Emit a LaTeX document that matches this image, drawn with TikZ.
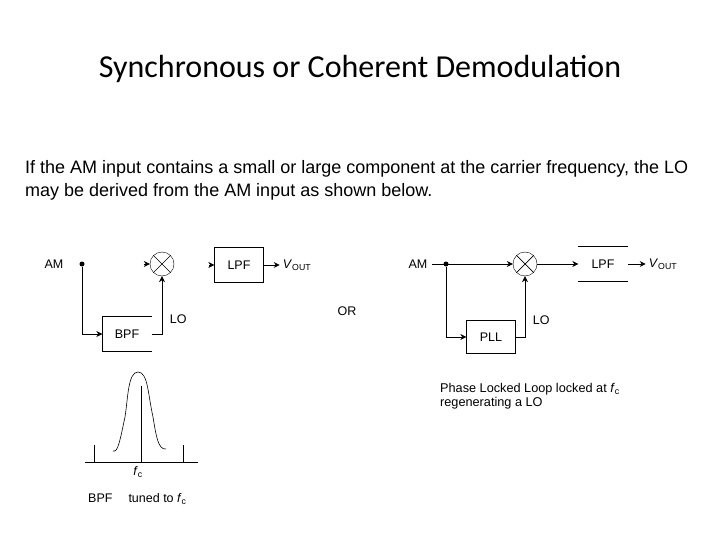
\documentclass[tikz,border=0pt]{standalone}
\usepackage{amsmath, amssymb}
\usepackage{xcolor}
\usepackage{fontspec}
\setmainfont{Liberation Sans}
\newfontfamily\titlefont{Carlito}
\usetikzlibrary{arrows.meta, positioning}
\newcommand{\itsym}[2]{\textit{#1}\textsubscript{#2}}
\tikzset{
  sysbox/.style={minimum width=49pt, minimum height=35pt, inner sep=0pt, font=\fontsize{12.5}{15}\selectfont},
  mixer/.style={draw, circle, minimum size=24pt, inner sep=0pt},
  jointdot/.style={fill, circle, minimum size=5pt, inner sep=0pt},
  lbl/.style={font=\fontsize{12.5}{15}\selectfont, inner sep=0pt},
  conn/.style={-{Stealth[length=6pt,width=6pt]}, line width=0.7pt},
  wire/.style={line width=0.7pt}
}
\begin{document}
\begin{tikzpicture}[x=1pt, y=-1pt, on grid]
        \useasboundingbox (0,0) rectangle (720,540);
        \node[font=\titlefont\fontsize{32}{38}\selectfont] (title) at (360,69) {Synchronous or Coherent Demodulation};
        \node[anchor=west, inner sep=0pt, font=\fontsize{18}{23}\selectfont, align=left] (intro) at (25,180)
          {If the AM input contains a small or large component at the carrier frequency, the LO\\
           may be derived from the AM input as shown below.};

        % left: band-pass filter recovers the carrier
        \node[jointdot] (amdotl) at (82,264) {};
        \node[lbl, left=28pt of amdotl] (aml) {AM};
        \node[mixer, right=80pt of amdotl] (mixl) {};
        \draw[wire] (mixl.north west) -- (mixl.south east);
        \draw[wire] (mixl.north east) -- (mixl.south west);
        \coordinate[left=6pt of mixl.west] (mixinl);
        \draw[conn] (mixinl) -- (mixl.west);
        \node[sysbox, below right=70pt and 45pt of amdotl] (bpfl) {BPF};
        \draw[wire] (bpfl.north east) -- (bpfl.north west) -- (bpfl.south west) -- (bpfl.south east);
        \draw[conn] (amdotl) |- (bpfl.west);
        \draw[conn] (bpfl.east) -| (mixl.south);
        \node[lbl, above right=15pt and 18pt of bpfl.east, yshift=-5pt] (lol) {LO};
        \node[draw, sysbox, right=77pt of mixl, yshift=-1pt] (lpfl) {LPF};
        \coordinate[left=5pt of lpfl.west] (lpfinl);
        \draw[conn] (lpfinl) -- (lpfl.west);
        \coordinate[right=16pt of lpfl.east] (voutl);
        \draw[conn] (lpfl.east) -- (voutl);
        \node[lbl, right=3pt of voutl, on grid=false] (voutlbl) {\itsym{V}{OUT}};

        % filter response
        \node[lbl] (or) at (347,311) {OR};
        \coordinate (axisl) at (85,462);
        \coordinate (axisr) at (198,462);
        \coordinate (fcbase) at (141,462);
        \coordinate (sbl) at (94,462);
        \coordinate (sbr) at (183,462);
        \draw[wire] (axisl) -- (axisr);
        \draw[wire] (sbl) -- ++(0,-17);
        \draw[wire] (sbr) -- ++(0,-17);
        \draw[wire] (fcbase) -- ++(0,-76);
        \draw[line width=0.6pt] (113,451) .. controls (118,453) and (120,440) .. (125,417)
          .. controls (128,398) and (128,372) .. (138,372)
          .. controls (148,372) and (148,395) .. (153,417)
          .. controls (156,435) and (158,450) .. (166,449);
        \node[lbl] (fcl) at (138,472) {\itsym{f}{c}};
        \node[lbl, anchor=west] (bpfcap) at (88,499) {BPF\hspace{16pt}tuned to \itsym{f}{c}};

        % right: phase locked loop recovers the carrier
        \node[jointdot] (amdotr) at (446,264) {};
        \node[lbl, left=28pt of amdotr] (amr) {AM};
        \coordinate[left=14pt of amdotr] (amstart);
        \node[mixer, right=79pt of amdotr] (mixr) {};
        \draw[wire] (mixr.north west) -- (mixr.south east);
        \draw[wire] (mixr.north east) -- (mixr.south west);
        \draw[conn] (amstart) -- (mixr.west);
        \node[draw, sysbox, below right=73pt and 45pt of amdotr, minimum height=33pt] (pll) {PLL};
        \draw[conn] (amdotr) |- (pll.west);
        \draw[conn] (pll.east) -| (mixr.south);
        \node[lbl, above right=12pt and 17pt of pll.east] (lor) {LO};
        \node[sysbox, right=78pt of mixr] (lpfr) {LPF};
        \draw[wire] (lpfr.north west) -- (lpfr.north east);
        \draw[wire] (lpfr.south west) -- (lpfr.south east);
        \draw[conn] (mixr.east) -- (lpfr.west);
        \coordinate[right=18pt of lpfr.east] (voutr);
        \draw[conn] (lpfr.east) -- (voutr);
        \node[lbl, right=3pt of voutr, on grid=false] (voutrlbl) {\itsym{V}{OUT}};
        \node[lbl, anchor=north west, align=left, font=\fontsize{12.7}{14}\selectfont] (pllcap) at (440,383)
          {Phase Locked Loop locked at \itsym{f}{c}\\ regenerating a LO};
      \end{tikzpicture}
\end{document}
